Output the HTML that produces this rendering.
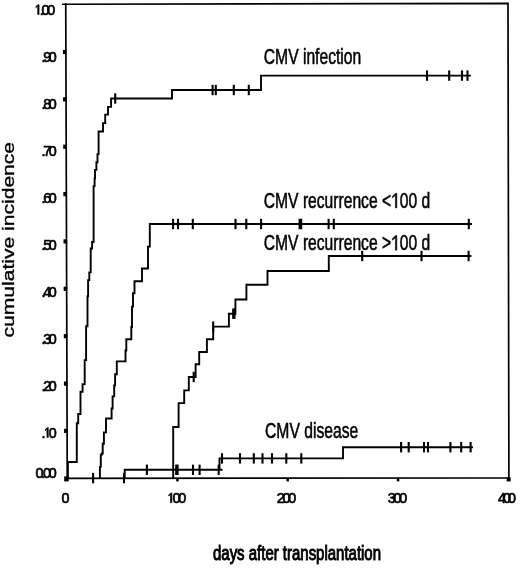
<!DOCTYPE html>
<html><head><meta charset="utf-8"><style>
html,body{margin:0;padding:0;background:#fff;}
body{width:520px;height:569px;overflow:hidden;}
svg{display:block;filter:grayscale(1);}
text{font-family:"Liberation Sans",sans-serif;fill:#000;stroke:#000;stroke-width:0.35px;}
.g1{fill:#000;stroke:#000;stroke-width:0.65px;}
.tl text{stroke-width:0.65px;}
.tt text{stroke-width:0.55px;}
.g1t{fill:#000;stroke:#000;stroke-width:0.55px;}
</style></head><body>
<svg width="520" height="569" viewBox="0 0 520 569">
<rect width="520" height="569" fill="#fff"/>
<g stroke="#000" fill="none" stroke-width="1.7" stroke-linecap="square">
<polyline points="63,4.25 508,3.45 508.9,478"/>
<line x1="65.75" y1="4.2" x2="67.25" y2="478.3"/>
<line x1="67" y1="478.3" x2="509" y2="478"/>
</g>
<g fill="#000">
<rect x="64.10" y="428.8" width="3.6" height="4.2"/>
<rect x="63.95" y="381.5" width="3.6" height="4.2"/>
<rect x="63.80" y="334.1" width="3.6" height="4.2"/>
<rect x="63.65" y="286.7" width="3.6" height="4.2"/>
<rect x="63.50" y="239.3" width="3.6" height="4.2"/>
<rect x="63.35" y="192.0" width="3.6" height="4.2"/>
<rect x="63.20" y="144.6" width="3.6" height="4.2"/>
<rect x="63.05" y="97.2" width="3.6" height="4.2"/>
<rect x="62.90" y="49.9" width="3.6" height="4.2"/>
<rect x="176.2" y="478" width="2.5" height="3.4"/>
<rect x="286.5" y="478" width="2.5" height="3.4"/>
<rect x="396.8" y="478" width="2.5" height="3.4"/>
<rect x="64.2" y="476.4" width="4.5" height="5"/>
<rect x="506.7" y="477.4" width="4" height="4"/>
</g>
<g stroke="#000" fill="none" stroke-width="1.9" stroke-linejoin="miter">
<polyline points="67.9,478.2 67.9,462.0 76.8,462.0 76.8,423.2 78.2,423.2 78.2,414.0 80.5,414.0 80.5,391.8 82.6,391.8 82.6,384.1 84.7,384.1 84.7,360.1 86.1,360.1 86.1,326.3 87.5,326.3 87.5,296.3 88.1,296.3 88.1,280.1 89.3,280.1 89.3,272.4 90.7,272.4 90.7,248.5 92.1,248.5 92.1,242.0 93.6,242.0 93.6,186.1 94.6,186.1 94.6,178.3 95.0,178.3 95.0,169.9 96.4,169.9 96.4,162.3 97.5,162.3 97.5,154.1 98.6,154.1 98.6,131.5 103.0,131.5 103.0,123.1 105.2,123.1 105.2,114.6 108.0,114.6 108.0,106.9 111.1,106.9 111.1,98.5 172.0,98.5 172.0,90.0 261.0,90.0 261.0,75.6 471.0,75.6"/>
<polyline points="99.9,478.2 99.9,466.9 100.8,466.9 100.8,454.9 101.7,454.9 101.7,453.5 102.7,453.5 102.7,443.7 103.9,443.7 103.9,432.4 106.0,432.4 106.0,418.5 111.6,418.5 111.6,408.5 112.6,408.5 112.6,396.4 114.2,396.4 114.2,385.4 115.1,385.4 115.1,374.3 116.8,374.3 116.8,361.4 125.5,361.4 125.5,350.5 126.3,350.5 126.3,339.3 131.3,339.3 131.3,327.0 132.0,327.0 132.0,306.6 133.0,306.6 133.0,293.2 134.5,293.2 134.5,281.2 142.0,281.2 142.0,268.5 148.0,268.5 148.0,246.6 149.8,246.6 149.8,224.0 472.0,224.0"/>
<polyline points="173.2,478.2 173.2,427.0 178.6,427.0 178.6,403.1 184.2,403.1 184.2,390.4 188.8,390.4 188.8,377.0 195.6,377.0 195.6,364.2 199.2,364.2 199.2,352.0 206.9,352.0 206.9,339.3 213.2,339.3 213.2,326.6 228.9,326.6 228.9,313.7 235.4,313.7 235.4,299.5 246.4,299.5 246.4,284.8 267.5,284.8 267.5,271.0 328.8,271.0 328.8,256.0 471.4,256.0"/>
<polyline points="124.7,478.2 124.7,469.8 222.5,469.8 219.5,469.8 219.5,458.4 343.0,458.4 343.0,447.2 473.0,447.2"/>
</g>
<g stroke="#000" stroke-width="2.1">
<line x1="115.2" y1="93.3" x2="115.2" y2="103.7"/>
<line x1="212.6" y1="84.8" x2="212.6" y2="95.2"/>
<line x1="215.8" y1="84.8" x2="215.8" y2="95.2"/>
<line x1="233.8" y1="84.8" x2="233.8" y2="95.2"/>
<line x1="248.8" y1="84.8" x2="248.8" y2="95.2"/>
<line x1="427.0" y1="70.4" x2="427.0" y2="80.8"/>
<line x1="449.2" y1="70.4" x2="449.2" y2="80.8"/>
<line x1="462.0" y1="70.4" x2="462.0" y2="80.8"/>
<line x1="467.5" y1="70.4" x2="467.5" y2="80.8"/>
<line x1="173.1" y1="218.8" x2="173.1" y2="229.2"/>
<line x1="178.0" y1="218.8" x2="178.0" y2="229.2"/>
<line x1="192.8" y1="218.8" x2="192.8" y2="229.2"/>
<line x1="235.5" y1="218.8" x2="235.5" y2="229.2"/>
<line x1="246.3" y1="218.8" x2="246.3" y2="229.2"/>
<line x1="261.1" y1="218.8" x2="261.1" y2="229.2"/>
<line x1="299.6" y1="218.8" x2="299.6" y2="229.2"/>
<line x1="301.2" y1="218.8" x2="301.2" y2="229.2"/>
<line x1="328.6" y1="218.8" x2="328.6" y2="229.2"/>
<line x1="333.8" y1="218.8" x2="333.8" y2="229.2"/>
<line x1="468.8" y1="218.8" x2="468.8" y2="229.2"/>
<line x1="193.7" y1="371.8" x2="193.7" y2="382.2"/>
<line x1="213.2" y1="321.4" x2="213.2" y2="331.8"/>
<line x1="233.2" y1="308.5" x2="233.2" y2="318.9"/>
<line x1="234.5" y1="308.5" x2="234.5" y2="318.9"/>
<line x1="362.2" y1="250.8" x2="362.2" y2="261.2"/>
<line x1="421.5" y1="250.8" x2="421.5" y2="261.2"/>
<line x1="468.6" y1="250.8" x2="468.6" y2="261.2"/>
<line x1="93.1" y1="472.9" x2="93.1" y2="483.3"/>
<line x1="124.0" y1="472.9" x2="124.0" y2="483.3"/>
<line x1="146.9" y1="464.6" x2="146.9" y2="475.0"/>
<line x1="176.2" y1="464.6" x2="176.2" y2="475.0"/>
<line x1="177.6" y1="464.6" x2="177.6" y2="475.0"/>
<line x1="193.0" y1="464.6" x2="193.0" y2="475.0"/>
<line x1="199.6" y1="464.6" x2="199.6" y2="475.0"/>
<line x1="218.7" y1="464.6" x2="218.7" y2="475.0"/>
<line x1="222.0" y1="453.2" x2="222.0" y2="463.6"/>
<line x1="240.0" y1="453.2" x2="240.0" y2="463.6"/>
<line x1="253.8" y1="453.2" x2="253.8" y2="463.6"/>
<line x1="262.5" y1="453.2" x2="262.5" y2="463.6"/>
<line x1="272.0" y1="453.2" x2="272.0" y2="463.6"/>
<line x1="286.3" y1="453.2" x2="286.3" y2="463.6"/>
<line x1="301.3" y1="453.2" x2="301.3" y2="463.6"/>
<line x1="401.1" y1="442.0" x2="401.1" y2="452.4"/>
<line x1="408.7" y1="442.0" x2="408.7" y2="452.4"/>
<line x1="424.0" y1="442.0" x2="424.0" y2="452.4"/>
<line x1="428.0" y1="442.0" x2="428.0" y2="452.4"/>
<line x1="450.4" y1="442.0" x2="450.4" y2="452.4"/>
<line x1="461.2" y1="442.0" x2="461.2" y2="452.4"/>
<line x1="470.6" y1="442.0" x2="470.6" y2="452.4"/>
</g>
<g font-size="14.3" class="tl">
<text x="35.47" y="477.70" letter-spacing="-2.2">0.00</text>
<text x="41.62" y="437.50" letter-spacing="-2.4">. 0</text>
<polygon class="g1" points="46.93,437.50 48.28,437.50 48.28,427.66 47.33,427.66 45.10,429.61 45.10,430.62 46.93,429.19"/>
<text x="41.62" y="390.50" letter-spacing="-2.4">.20</text>
<text x="41.62" y="343.50" letter-spacing="-2.4">.30</text>
<text x="41.62" y="296.50" letter-spacing="-2.4">.40</text>
<text x="41.62" y="249.50" letter-spacing="-2.4">.50</text>
<text x="41.62" y="202.50" letter-spacing="-2.4">.60</text>
<text x="41.62" y="155.50" letter-spacing="-2.4">.70</text>
<text x="41.62" y="108.50" letter-spacing="-2.4">.80</text>
<text x="41.62" y="61.50" letter-spacing="-2.4">.90</text>
<text x="33.97" y="14.50" letter-spacing="-2.2"> .00</text>
<polygon class="g1" points="37.71,14.50 39.06,14.50 39.06,4.66 38.10,4.66 35.88,6.61 35.88,7.62 37.71,6.19"/>
<text x="61.42" y="502.80" letter-spacing="-2.2">0</text>
<text x="166.77" y="502.80" letter-spacing="-2.2"> 00</text>
<polygon class="g1" points="170.51,502.80 171.86,502.80 171.86,492.96 170.91,492.96 168.68,494.91 168.68,495.92 170.51,494.49"/>
<text x="276.87" y="502.80" letter-spacing="-2.2">200</text>
<text x="387.67" y="502.80" letter-spacing="-2.2">300</text>
<text x="497.97" y="502.80" letter-spacing="-2.9">400</text>
</g>
<g font-size="21.3" class="tt">
<text x="263.8" y="63.6" textLength="97.4" lengthAdjust="spacingAndGlyphs">CMV infection</text>
<text x="263.81" y="207.90" textLength="166.40" lengthAdjust="spacingAndGlyphs" style="font-kerning:none">CMV recurrence &lt; 00 d</text>
<polygon class="g1t" points="395.43,207.90 396.82,207.90 396.82,193.25 395.69,193.25 392.39,196.36 392.39,197.86 395.43,195.37"/>
<text x="263.81" y="250.20" textLength="166.40" lengthAdjust="spacingAndGlyphs" style="font-kerning:none">CMV recurrence &gt; 00 d</text>
<polygon class="g1t" points="395.43,250.20 396.82,250.20 396.82,235.55 395.69,235.55 392.39,238.66 392.39,240.16 395.43,237.67"/>
<text x="265" y="437.7" textLength="93.3" lengthAdjust="spacingAndGlyphs">CMV disease</text>
</g>
<text transform="translate(14.4,337.5) rotate(-90)" font-size="16" textLength="195.6" lengthAdjust="spacingAndGlyphs">cumulative incidence</text>
<text x="213" y="560.0" font-size="20.2" textLength="168" style="stroke-width:1.0px" lengthAdjust="spacingAndGlyphs">days after transplantation</text>
</svg>
</body></html>
